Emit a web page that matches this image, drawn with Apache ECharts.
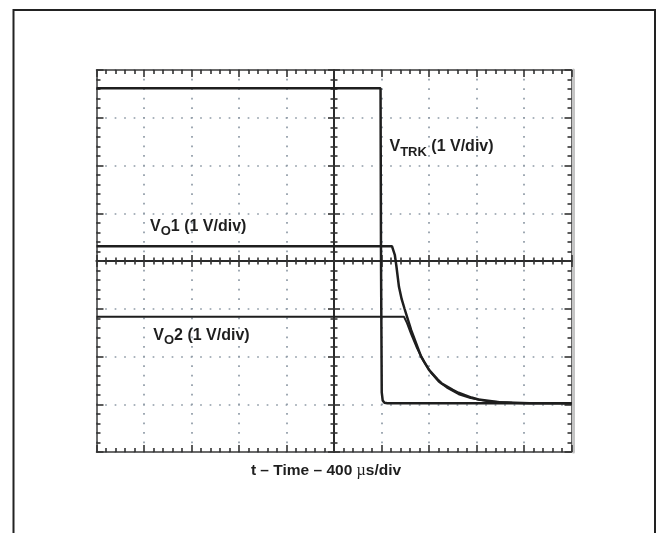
<!DOCTYPE html>
<html>
<head>
<meta charset="utf-8">
<script src="https://cdn.jsdelivr.net/npm/echarts@6/dist/echarts.min.js"></script>
<style>
  html, body { margin: 0; padding: 0; background: #ffffff; }
  #chart { width: 665px; height: 533px; }
</style>
</head>
<body>
<div id="chart"></div>
<script>
// Horizontal axis: time relative to the screen centre, in µs (400 µs/div, 10 divisions)
const timeMin = -2000;
const timeMax = 2000;
const timePerDiv = 400;
// Vertical axis: divisions (every trace at 1 V/div, 8 divisions)
const divMin = -4;
const divMax = 4;
const divStep = 1;

// Tracking input: drops from ~3.6 div to the -3 div baseline
const vTrkTime = [-2000, 392, 396, 402, 410, 425, 450, 2000];
const vTrkDiv  = [3.62, 3.62, 0.0, -2.75, -2.92, -2.97, -2.98, -2.98];

// Output 1
const vO1Time = [-2000, 488, 500, 512, 525, 547, 570, 594, 650, 733, 800, 872, 905, 1000, 1048, 1158, 1217, 1394, 1646, 2000];
const vO1Div  = [0.31, 0.31, 0.27, 0.13, -0.1, -0.54, -0.8, -1.0, -1.45, -2.0, -2.28, -2.48, -2.56, -2.7, -2.76, -2.86, -2.9, -2.96, -2.98, -2.98];

// Output 2
const vO2Time = [-2000, 590, 602, 615, 650, 700, 760, 820, 880, 950, 1050, 1150, 1300, 1500, 2000];
const vO2Div  = [-1.17, -1.17, -1.2, -1.3, -1.53, -1.83, -2.12, -2.35, -2.52, -2.65, -2.79, -2.87, -2.94, -2.97, -2.98];

// Trace labels and axis title
const traceLabels = [
  { text: 'V{s|TRK} (1 V/div)', x: 389.5, y: 135.5 },
  { text: 'V{s|O}1 (1 V/div)',  x: 150,   y: 215.2 },
  { text: 'V{s|O}2 (1 V/div)',  x: 153.3, y: 323.8 }
];
const xTitle = 't \u2013 Time \u2013 400 {u|\u00b5}s/div';

const ink = '#1e1e1e';
const tickInk = '#333333';
const dotInk = '#8f9ba6';
const family = '"Liberation Sans", Arial, Helvetica, sans-serif';

const zip = (xs, ys) => xs.map((x, i) => [x, ys[i]]);

function edgeAxis(dim, position) {
  const isX = dim === 'x';
  return {
    type: 'value',
    position: position,
    min: isX ? timeMin : divMin,
    max: isX ? timeMax : divMax,
    interval: isX ? timePerDiv : divStep,
    axisLine: { show: true, onZero: false, lineStyle: { color: '#3a3a3a', width: 1.5 } },
    axisTick: { show: true, inside: true, length: 7, lineStyle: { color: tickInk, width: 1.6 } },
    minorTick: { show: true, splitNumber: 5, length: 4, lineStyle: { color: tickInk, width: 1.6 } },
    axisLabel: { show: false },
    splitLine: { show: false },
    minorSplitLine: { show: false }
  };
}

function centreAxis(dim, position) {
  const a = edgeAxis(dim, position);
  a.axisLine = { show: true, onZero: true, onZeroAxisIndex: 0, lineStyle: { color: '#2a2a2a', width: 1.8 } };
  a.axisTick.length = 6;
  a.minorTick.length = 3.5;
  return a;
}

const xBottom = edgeAxis('x', 'bottom');
xBottom.splitLine = { show: true, lineStyle: { color: dotInk, width: 1.7, type: [1.7, 7.85], dashOffset: 0.85 } };
const yLeft = edgeAxis('y', 'left');
yLeft.splitLine = { show: true, lineStyle: { color: dotInk, width: 1.7, type: [1.7, 7.8], dashOffset: 0.85 } };

// light shadow band along the right edge of the screen
const yShade = {
  type: 'value', position: 'right', offset: 2,
  min: divMin, max: divMax, interval: divStep,
  axisLine: { show: true, onZero: false, lineStyle: { color: '#c4c4c4', width: 3 } },
  axisTick: { show: false }, axisLabel: { show: false }, splitLine: { show: false }
};

function trace(name, data, width) {
  return {
    name: name, type: 'line', xAxisIndex: 0, yAxisIndex: 0,
    data: data, showSymbol: false, symbol: 'none', smooth: false,
    lineStyle: { color: ink, width: width }, z: 5, animation: false
  };
}

const labelStyle = (text) => ({
  text: text,
  fontFamily: family, fontWeight: 'bold', fontSize: 16,
  lineHeight: 23, fill: ink, verticalAlign: 'top',
  rich: {
    s: { fontFamily: family, fontWeight: 'bold', fontSize: 13, lineHeight: 13, verticalAlign: 'bottom', fill: ink }
  }
});

const chart = echarts.init(document.getElementById('chart'), null, { renderer: 'canvas' });
chart.setOption({
  backgroundColor: '#ffffff',
  animation: false,
  grid: { left: 96.5, top: 70, width: 475, height: 382, containLabel: false },
  xAxis: [
    xBottom,
    edgeAxis('x', 'top'),
    centreAxis('x', 'bottom'),
    centreAxis('x', 'top')
  ],
  yAxis: [
    yLeft,
    edgeAxis('y', 'right'),
    centreAxis('y', 'left'),
    centreAxis('y', 'right'),
    yShade
  ],
  series: [
    trace('VTRK', zip(vTrkTime, vTrkDiv), 2.5),
    trace('VO1', zip(vO1Time, vO1Div), 2.5),
    trace('VO2', zip(vO2Time, vO2Div), 2.0)
  ],
  graphic: [
    {
      type: 'rect', silent: true,
      shape: { x: 13.5, y: 10, width: 641.5, height: 540 },
      style: { fill: 'none', stroke: '#222222', lineWidth: 2 }
    },
    ...traceLabels.map(l => ({ type: 'text', x: l.x, y: l.y, z: 10, style: labelStyle(l.text) })),
    {
      type: 'text', x: 326, y: 470.5, z: 10,
      style: {
        text: xTitle,
        fontFamily: family, fontWeight: 'bold', fontSize: 15.5, fill: ink,
        align: 'center', verticalAlign: 'middle',
        rich: { u: { fontFamily: '"Liberation Serif", "DejaVu Serif", serif', fontWeight: 'normal', fontSize: 16, fill: ink } }
      }
    }
  ]
});
</script>
</body>
</html>
